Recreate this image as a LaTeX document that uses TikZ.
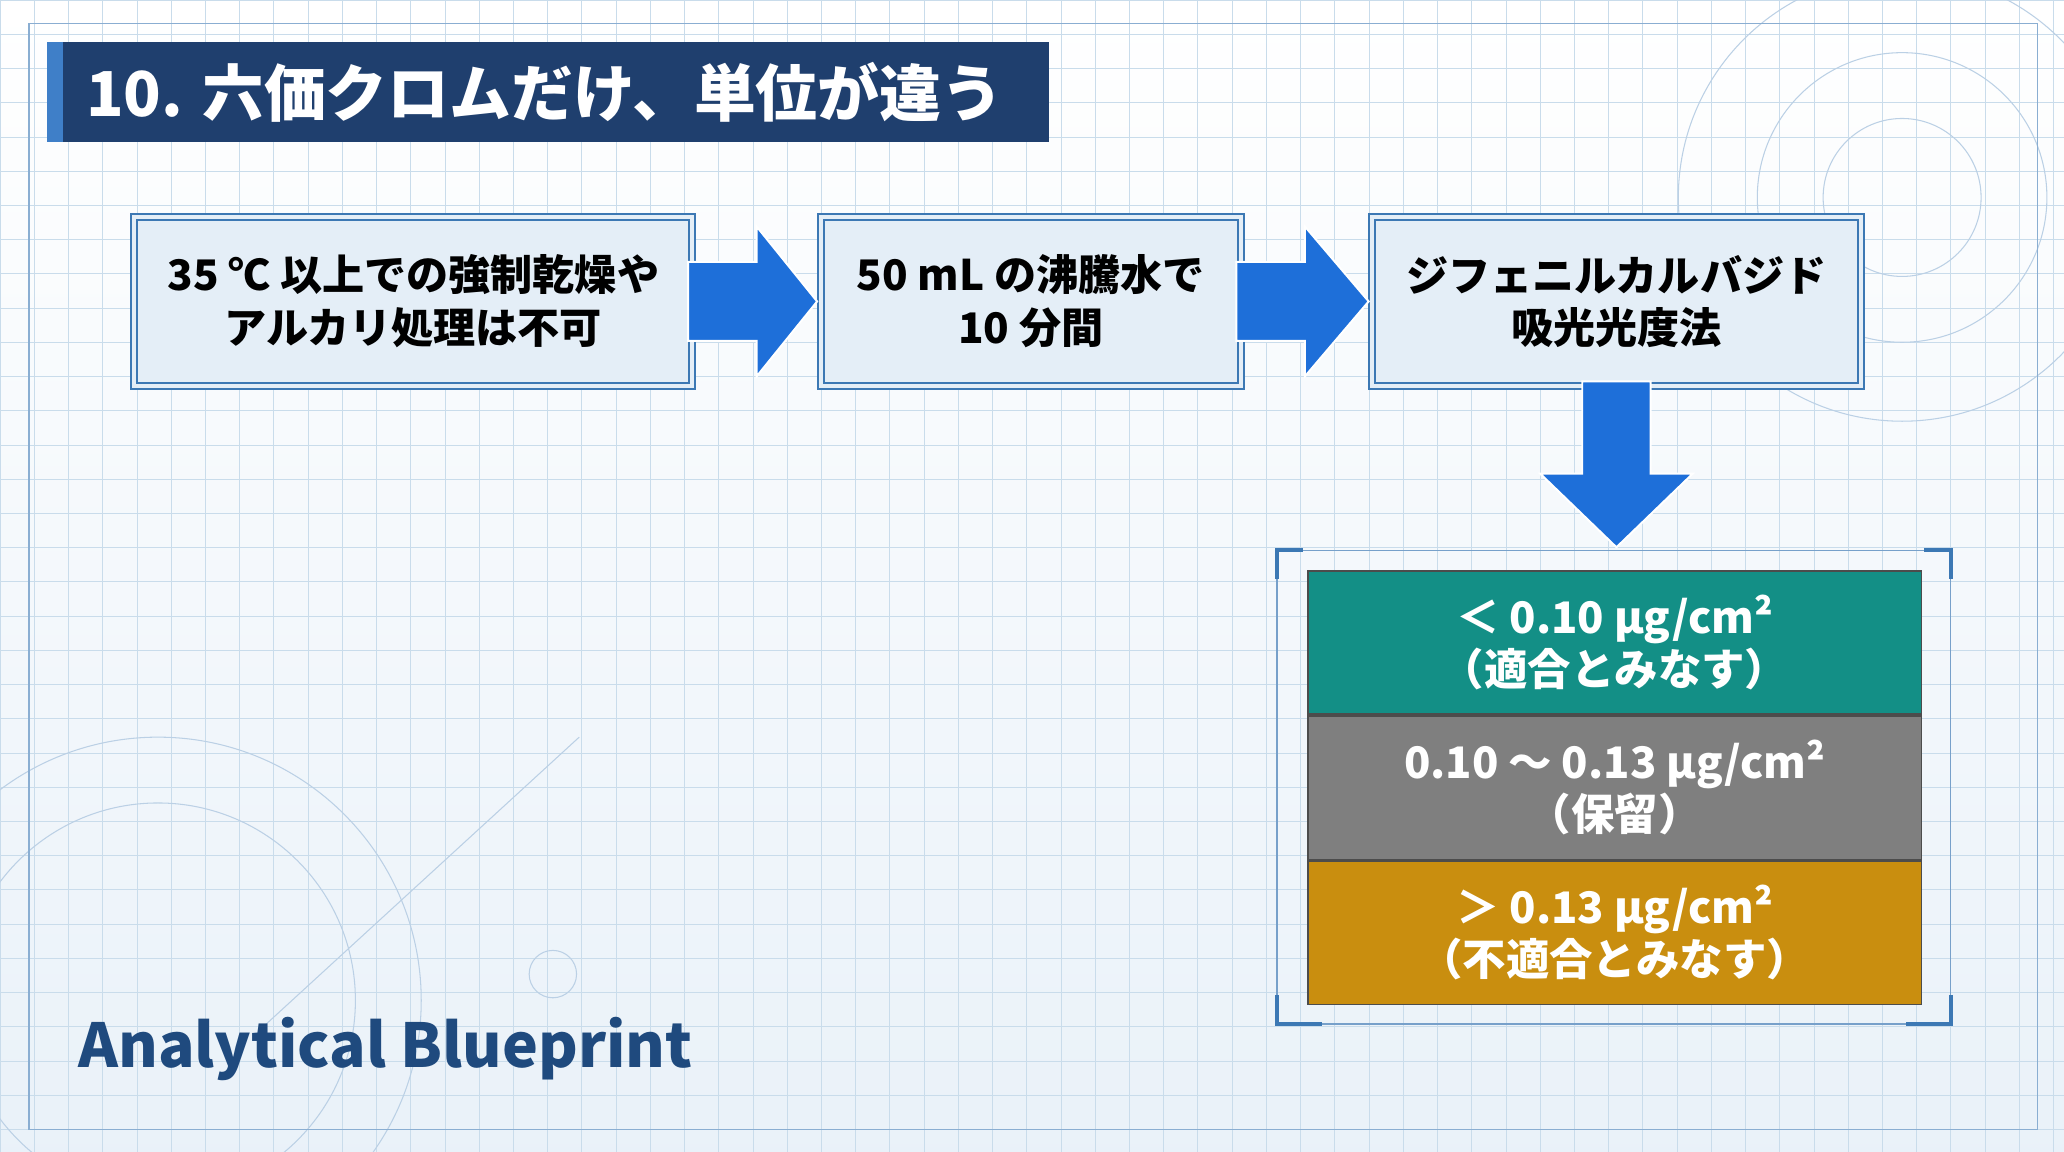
\documentclass[tikz,border=0pt]{standalone}
\usepackage{fontspec}
\setmainfont{Noto Sans CJK JP}
\usetikzlibrary{calc}
\definecolor{navy}{HTML}{1F3F6E}
\definecolor{stripe}{HTML}{3F7FC8}
\definecolor{boxline}{HTML}{3C78B4}
\definecolor{boxfill}{HTML}{E4EEF7}
\definecolor{arrowblue}{HTML}{1E6FD9}
\definecolor{teal}{HTML}{138F86}
\definecolor{grayrow}{HTML}{7F7F7F}
\definecolor{gold}{HTML}{C98E0F}
\definecolor{gridc}{HTML}{C9DCEB}
\definecolor{bpblue}{HTML}{1F4A7E}
\begin{document}
\begin{tikzpicture}[x=1pt,y=-1pt,
  stepbox/.style={draw=boxline,line width=1.5pt,fill=boxfill,double=boxfill,double distance=3pt,minimum height=128pt,align=center,font=\fontsize{32}{40}\selectfont\bfseries,inner sep=0pt},
  barrow/.style={fill=arrowblue,draw=white,line width=1.5pt},
  row/.style={minimum width=466pt,minimum height=109pt,align=center,text=white,font=\fontsize{33}{40}\selectfont\bfseries,draw=black!70,line width=1.2pt,inner sep=0pt},
  deco/.style={draw=boxline!35,line width=0.8pt}]
\useasboundingbox (0,0) rectangle (1568,875);
\shade[top color=white,bottom color=boxfill!80] (0,0) rectangle (1568,875);
\foreach \i in {0,26,...,1568} \draw[gridc,line width=0.6pt] (\i,0) -- (\i,875);
\foreach \j in {0,26,...,875} \draw[gridc,line width=0.6pt] (0,\j) -- (1568,\j);
% decorations
\draw[deco] (1445,150) circle (110) (1445,150) circle (60) (1445,150) circle (170);
\draw[deco] (120,760) circle (200) (120,760) circle (150);
\draw[deco] (420,740) circle (18) (200,780) -- (440,560);
\draw[draw=boxline!60,line width=1pt] (22,18) rectangle (1548,858);
% title
\node[fill=navy,minimum width=761pt,minimum height=76pt,anchor=north west,inner sep=0pt] (title) at (36,32) {};
\fill[stripe] (36,32) rectangle (48,108);
\node[anchor=west,text=white,font=\fontsize{47}{54}\selectfont\bfseries] (ttext) at (62,70) {10. 六価クロムだけ、単位が違う};
% steps
\node[stepbox,minimum width=424pt] (s1) at (314,229) {35 ℃ 以上での強制乾燥や\\アルカリ処理は不可};
\node[stepbox,minimum width=319pt] (s2) at (783,229) {50 mL の沸騰水で\\10 分間};
\node[stepbox,minimum width=371pt] (s3) at (1228,229) {ジフェニルカルバジド\\吸光光度法};
% arrows
\coordinate (a1) at (s1.east); \coordinate (a2) at (s2.east);
\draw[barrow] ($(a1)+(-4,-30)$) -- ++(52,0) -- ++(0,-27) -- ($(s2.west)+(-2,0)$) -- ($(a1)+(48,57)$) -- ++(0,-27) -- ++(-52,0) -- cycle;
\draw[barrow] ($(a2)+(-4,-30)$) -- ++(52,0) -- ++(0,-27) -- ($(s3.west)+(-2,0)$) -- ($(a2)+(48,57)$) -- ++(0,-27) -- ++(-52,0) -- cycle;
% table
\node[row,fill=teal,anchor=north west] (r1) at (993,433) {＜ 0.10 μg/cm²\\（適合とみなす）};
\node[row,fill=grayrow,anchor=north] (r2) at (r1.south) {0.10 〜 0.13 μg/cm²\\（保留）};
\node[row,fill=gold,anchor=north] (r3) at (r2.south) {＞ 0.13 μg/cm²\\（不適合とみなす）};
\draw[barrow] ($(s3.south)+(-26,-4)$) -- ($(s3.south)+(-26,66)$) -- ++(-32,0) -- ($(s3.south)+(0,122)$) -- ($(s3.south)+(58,66)$) -- ++(-32,0) -- ($(s3.south)+(26,-4)$) -- cycle;
% bracket frame
\draw[boxline!70,line width=1pt] (970,418) rectangle (1482,778);
\draw[boxline,line width=3pt] (970,440) -- (970,418) -- (990,418) (1462,418) -- (1482,418) -- (1482,440) (970,756) -- (970,778) -- (1004,778) (1448,778) -- (1482,778) -- (1482,756);
% footer
\node[anchor=west,text=bpblue,font=\fontsize{46}{52}\selectfont\bfseries] (bp) at (56,797) {Analytical Blueprint};
\end{tikzpicture}
\end{document}
